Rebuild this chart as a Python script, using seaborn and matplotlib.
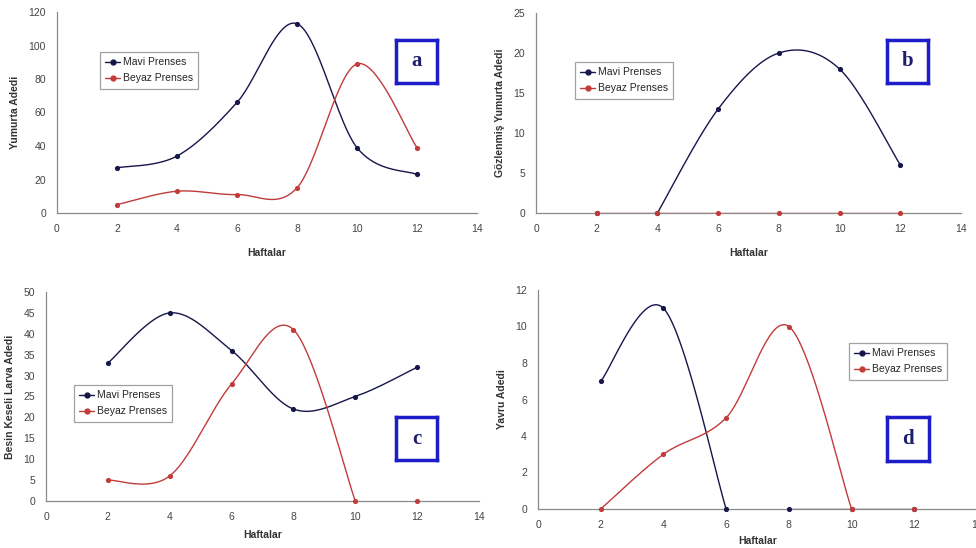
import numpy as np
import pandas as pd
import seaborn as sns
import matplotlib.pyplot as plt
from matplotlib.lines import Line2D

sns.set_theme(style="white")
plt.rcParams['font.family'] = ['Liberation Sans Narrow', 'Liberation Sans', 'DejaVu Sans']

# veriler
haftalar = [2, 4, 6, 8, 10, 12]

a_mavi = [27, 34, 66, 113, 39, 23]
a_beyaz = [5, 13, 11, 15, 89, 39]

b_mavi = [0, 0, 13, 20, 18, 6]
b_beyaz = [0, 0, 0, 0, 0, 0]

c_mavi = [33, 45, 36, 22, 25, 32]
c_beyaz = [5, 6, 28, 41, 0, 0]

d_mavi = [7, 11, 0, 0, 0, 0]
d_beyaz = [0, 3, 5, 10, 0, 0]

# cizgi parcalari (indeksler) - grafikte baglanan noktalar
a_mavi_seg = [[0, 1, 2, 3, 4, 5]]
a_beyaz_seg = [[0, 1, 2, 3, 4, 5]]
b_mavi_seg = [[1, 2, 3, 4, 5]]
b_beyaz_seg = [[0, 1, 2, 3, 4, 5]]
c_mavi_seg = [[0, 1, 2, 3, 4, 5]]
c_beyaz_seg = [[0, 1, 2, 3, 4]]
d_mavi_seg = [[0, 1, 2], [3, 4, 5]]
d_beyaz_seg = [[0, 1, 2, 3, 4]]

mavi_renk = '#16164a'
beyaz_renk = '#c23b3b'
W, H = 976, 548


def smooth(xs, ys, n=40):
    # excel tarzi yumusatilmis cizgi (catmull-rom bezier)
    p = np.column_stack([xs, ys]).astype(float)
    if len(p) < 2:
        return p[:, 0], p[:, 1]
    ext = np.vstack([p[0], p, p[-1]])
    out = []
    t = np.linspace(0, 1, n)[:, None]
    for i in range(1, len(ext) - 2):
        p0, p1, p2, p3 = ext[i - 1], ext[i], ext[i + 1], ext[i + 2]
        c1 = p1 + (p2 - p0) / 6
        c2 = p2 - (p3 - p1) / 6
        seg = ((1 - t) ** 3) * p1 + 3 * ((1 - t) ** 2) * t * c1 + 3 * (1 - t) * t ** 2 * c2 + t ** 3 * p2
        out.append(seg)
    out = np.vstack(out)
    return out[:, 0], out[:, 1]


def px_axes(fig, x0, x1, y_top, y_bot):
    return fig.add_axes([x0 / W, (H - y_bot) / H, (x1 - x0) / W, (y_bot - y_top) / H])


def panel(ax, mavi, beyaz, mavi_seg, beyaz_seg, ymax, ystep, ylabel, xpad=10):
    z = 2
    for vals, segs, color in [(mavi, mavi_seg, mavi_renk), (beyaz, beyaz_seg, beyaz_renk)]:
        for seg in segs:
            sx, sy = smooth([haftalar[i] for i in seg], [vals[i] for i in seg])
            df = pd.DataFrame({'x': sx, 'y': sy})
            sns.lineplot(data=df, x='x', y='y', sort=False, estimator=None,
                         color=color, linewidth=1.0, ax=ax, zorder=z)
        pts = pd.DataFrame({'x': haftalar, 'y': vals})
        sns.scatterplot(data=pts, x='x', y='y', color=color, s=14, linewidth=0,
                        ax=ax, zorder=z + 4, clip_on=False)
        z += 1
    ax.set_xlim(0, 14)
    ax.set_ylim(0, ymax)
    ax.set_xticks(range(0, 15, 2))
    ax.set_yticks(np.arange(0, ymax + 0.1, ystep))
    ax.set_xlabel('Haftalar', fontsize=7.5, fontweight='bold', color='#333333', labelpad=xpad)
    ax.set_ylabel(ylabel, fontsize=7.5, fontweight='bold', color='#333333', labelpad=6)
    for s in ['top', 'right']:
        ax.spines[s].set_visible(False)
    for s in ['left', 'bottom']:
        ax.spines[s].set_color('#8a8a8a')
        ax.spines[s].set_linewidth(0.9)
    ax.tick_params(axis='both', direction='out', length=3, width=0.8, color='#8a8a8a',
                   labelsize=7.5, labelcolor='#444444', pad=5)
    ax.patch.set_alpha(0)


def legend(fig, x0, y0, x1, y1):
    handles = [Line2D([0], [0], color=mavi_renk, marker='o', markersize=3.5, linewidth=1),
               Line2D([0], [0], color=beyaz_renk, marker='o', markersize=3.5, linewidth=1)]
    lg = fig.legend(handles, ['Mavi Prenses', 'Beyaz Prenses'], loc='upper left',
                    bbox_to_anchor=(x0 / W, (H - y0) / H), frameon=True, fancybox=False,
                    fontsize=7.5, handlelength=1.4, handletextpad=0.3, borderpad=0.5,
                    labelspacing=0.6, borderaxespad=0)
    lg.get_frame().set_edgecolor('#8a8a8a')
    lg.get_frame().set_linewidth(0.9)


def harf(fig, text, x0, y0, x1, y1):
    ax = fig.add_axes([x0 / W, (H - y1) / H, (x1 - x0) / W, (y1 - y0) / H])
    ax.set_xticks([])
    ax.set_yticks([])
    for s in ax.spines.values():
        s.set_color('#1c1cc8')
        s.set_linewidth(2.5)
    ax.text(0.5, 0.5, text, ha='center', va='center', fontsize=15, fontweight='bold',
            color='#1e1e6e', family='Liberation Serif', transform=ax.transAxes)


fig = plt.figure(figsize=(9.76, 5.48), dpi=100)
fig.patch.set_facecolor('white')

ax_a = px_axes(fig, 57, 477, 12, 213)
panel(ax_a, a_mavi, a_beyaz, a_mavi_seg, a_beyaz_seg, 120, 20, 'Yumurta Adedi')
legend(fig, 100, 52, 188, 90)
harf(fig, 'a', 396, 40, 437, 83)

ax_b = px_axes(fig, 536, 961, 13, 213)
panel(ax_b, b_mavi, b_beyaz, b_mavi_seg, b_beyaz_seg, 25, 5, 'Gözlenmiş Yumurta Adedi')
legend(fig, 575, 62, 665, 98)
harf(fig, 'b', 887, 40, 928, 83)

ax_c = px_axes(fig, 46, 479, 292, 501)
panel(ax_c, c_mavi, c_beyaz, c_mavi_seg, c_beyaz_seg, 50, 5, 'Besin Keseli Larva Adedi', xpad=6)
legend(fig, 74, 385, 162, 422)
harf(fig, 'c', 396, 417, 437, 460)

ax_d = px_axes(fig, 538, 977, 290, 509)
panel(ax_d, d_mavi, d_beyaz, d_mavi_seg, d_beyaz_seg, 12, 2, 'Yavru Adedi', xpad=4)
legend(fig, 849, 343, 937, 379)
harf(fig, 'd', 887, 417, 929, 461)

fig.savefig('out.png', dpi=100, facecolor='white')
